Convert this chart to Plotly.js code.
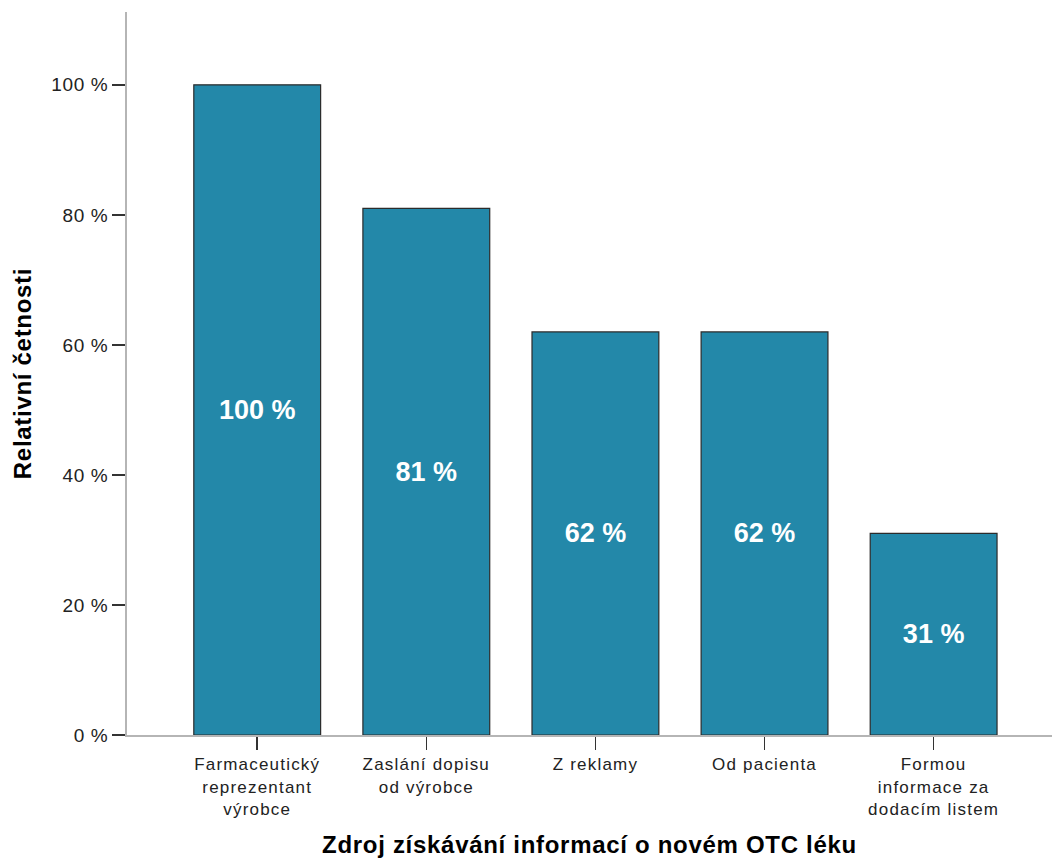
<!DOCTYPE html>
<html>
<head>
<meta charset="utf-8">
<script src="https://cdn.plot.ly/plotly-3.0.1.min.js"></script>
<style>
  html, body { margin: 0; padding: 0; background: #ffffff; }
  #chart { width: 1054px; height: 858px; }
  #chart .xtick text { letter-spacing: 1.2px; }
  #chart .ytick text { letter-spacing: 0.6px; }
  #chart .xtitle, #chart .ytitle { letter-spacing: 0.7px; }
</style>
</head>
<body>
<div id="chart"></div>
<script>
const categories = [
  "Farmaceutický<br>reprezentant<br>výrobce",
  "Zaslání dopisu<br>od výrobce",
  "Z reklamy",
  "Od pacienta",
  "Formou<br>informace za<br>dodacím listem"
];
const values = [100, 81, 62, 62, 31];
const valueLabels = ["100 %", "81 %", "62 %", "62 %", "31 %"];
const yTickVals = [0, 20, 40, 60, 80, 100];
const yTickText = ["0 %", "20 %", "40 %", "60 %", "80 %", "100 %"];
const xTitle = "Zdroj získávání informací o novém OTC léku";
const yTitle = "Relativní četnosti";

const font = "Liberation Sans, Arial, sans-serif";

const trace = {
  type: "bar",
  x: categories.map((c, i) => i),
  y: values,
  text: valueLabels,
  textposition: "inside",
  insidetextanchor: "middle",
  textangle: 0,
  textfont: { family: font, size: 27, color: "#ffffff", weight: "bold" },
  marker: { color: "#2388A9", line: { color: "#2b2b2b", width: 1.2 } },
  width: 0.75,
  hoverinfo: "none"
};

const layout = {
  width: 1054,
  height: 858,
  margin: { l: 127, r: 2, t: 12, b: 123 },
  paper_bgcolor: "#ffffff",
  plot_bgcolor: "#ffffff",
  showlegend: false,
  font: { family: font, color: "#222222" },
  xaxis: {
    range: [-0.77, 4.7],
    tickmode: "array",
    tickvals: categories.map((c, i) => i),
    ticktext: categories,
    ticks: "outside",
    ticklen: 13,
    tickwidth: 1.5,
    tickcolor: "#333333",
    tickfont: { family: font, size: 17, color: "#222222" },
    showline: true,
    linecolor: "#b5b5b5",
    linewidth: 2,
    showgrid: false,
    zeroline: false,
    fixedrange: true,
    title: { text: xTitle, font: { family: font, size: 24, color: "#000000", weight: "bold" }, standoff: 21 }
  },
  yaxis: {
    range: [0, 111.2],
    tickmode: "array",
    tickvals: yTickVals,
    ticktext: yTickText,
    ticks: "outside",
    ticklen: 13,
    tickwidth: 1.5,
    tickcolor: "#333333",
    tickfont: { family: font, size: 19, color: "#222222" },
    showline: true,
    linecolor: "#b5b5b5",
    linewidth: 2,
    showgrid: false,
    zeroline: false,
    fixedrange: true,
    title: { text: yTitle, font: { family: font, size: 24, color: "#000000", weight: "bold" }, standoff: 16 }
  }
};

Plotly.newPlot("chart", [trace], layout, { displayModeBar: false, staticPlot: true });
</script>
</body>
</html>
